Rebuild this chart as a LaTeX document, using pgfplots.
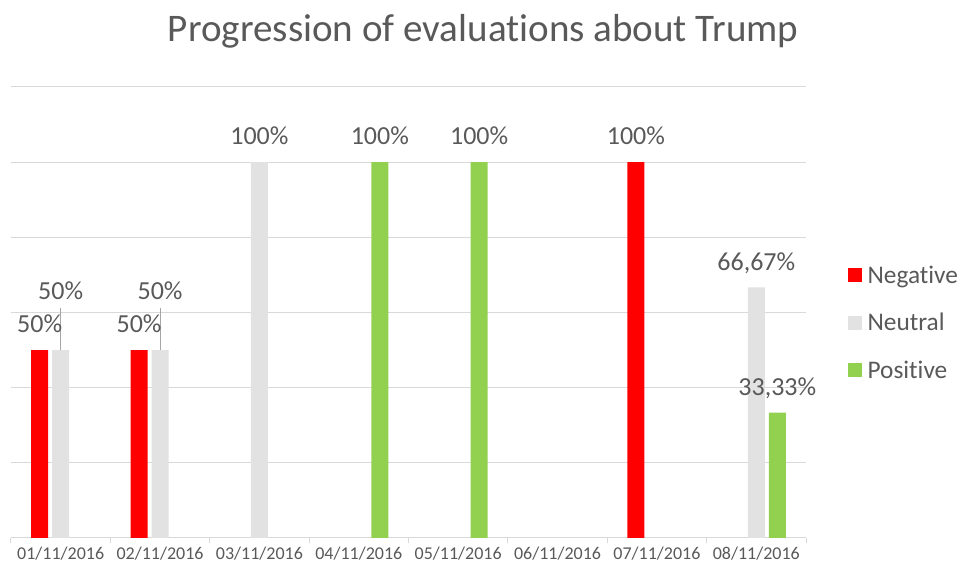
\documentclass[border=0pt]{standalone}
\usepackage{pgfplots}
\pgfplotsset{compat=1.18}
\usepackage{fontspec}
\setmainfont{Carlito}[Ligatures={NoCommon}]
\definecolor{negc}{HTML}{FF0000}
\definecolor{neuc}{HTML}{E2E2E2}
\definecolor{posc}{HTML}{92D050}
\definecolor{txt}{HTML}{595959}
\definecolor{gridc}{HTML}{D9D9D9}
\definecolor{leadc}{HTML}{A6A6A6}
\begin{document}
\begin{tikzpicture}
\useasboundingbox (0,0) rectangle (719.25pt,424.5pt);
\begin{axis}[
  at={(8.25pt,21pt)}, anchor=south west,
  scale only axis, width=596.25pt, height=338.25pt,
  xmin=-0.5, xmax=7.5, ymin=0, ymax=120,
  separate axis lines,
  axis x line*=bottom, axis y line*=left,
  x axis line style={-, draw=gridc, line width=0.75pt},
  y axis line style={draw=none},
  ytick={0,20,...,120}, yticklabel=\empty,
  major y tick style={draw=none},
  ymajorgrids, grid style={gridc, line width=0.75pt},
  xtick={0,...,7},
  xticklabels={01/11/2016,02/11/2016,03/11/2016,04/11/2016,05/11/2016,06/11/2016,07/11/2016,08/11/2016},
  major x tick style={draw=none},
  minor xtick={-0.5,0.5,...,7.5},
  minor x tick style={draw=gridc, line width=0.75pt},
  tick align=outside, minor tick length=4pt, major tick length=0pt,
  xticklabel style={font=\fontsize{13.5}{16}\selectfont, text=txt, yshift=-3pt},
  point meta=explicit symbolic,
  nodes near coords,
  nodes near coords style={font=\fontsize{19.5}{23}\selectfont, text=txt, anchor=base, inner sep=0pt, yshift=13pt},
  legend image code/.code={\fill[#1] (0pt,-5.25pt) rectangle (10.5pt,5.25pt);},
  legend style={at={(1.0528,0.6075)}, anchor=north west, draw=none, fill=none,
    font=\fontsize{19}{23}\selectfont, text=txt, row sep=19pt, inner sep=0pt,
    nodes={inner sep=1pt},
    /tikz/every odd column/.style={column sep=3pt}},
  legend cell align=left,
  clip=false,
]
\addplot[ybar, bar width=12.75pt, bar shift=-15.75pt, fill=negc, draw=none,
  nodes near coords style={xshift=-15.75pt}]
  coordinates {(0,50) [50\%] (1,50) [50\%] (6,100) [100\%]};
\addlegendentry{Negative}
\addplot[ybar, bar width=12.75pt, bar shift=0pt, fill=neuc, draw=none]
  coordinates {(2,100) [100\%] (7,66.67) [66,67\%]};
\addlegendentry{Neutral}
\addplot[ybar, bar width=12.75pt, bar shift=15.75pt, fill=posc, draw=none,
  nodes near coords style={xshift=15.75pt}]
  coordinates {(3,100) [100\%] (4,100) [100\%] (7,33.33) [33,33\%]};
\addlegendentry{Positive}
\addplot[ybar, bar width=12.75pt, bar shift=0pt, fill=neuc, draw=none, forget plot,
  nodes near coords style={yshift=25pt}]
  coordinates {(0,50) [50\%] (1,50) [50\%]};
\draw[leadc, line width=0.75pt] (axis cs:0,50) -- ++(0pt,31.5pt);
\draw[leadc, line width=0.75pt] (axis cs:1,50) -- ++(0pt,31.5pt);
\node[font=\fontsize{29.3}{34}\selectfont, text=txt, anchor=base] at (rel axis cs:0.594,1.0998) {Progression of evaluations about Trump};
\end{axis}
\end{tikzpicture}
\end{document}
